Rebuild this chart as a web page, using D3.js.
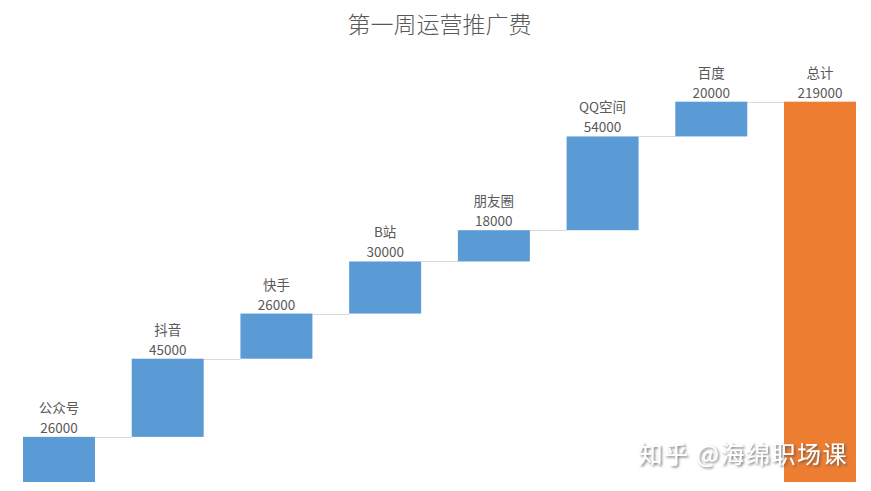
<!DOCTYPE html>
<html><head><meta charset="utf-8">
<script src="https://cdn.jsdelivr.net/npm/d3@7"></script>
<style>body{margin:0;background:#fff;}svg{display:block;}</style>
</head><body><svg id="c" width="871" height="491"></svg>
<script>
const categories = ["公众号","抖音","快手","B站","朋友圈","QQ空间","百度","总计"];
const values = [26000,45000,26000,30000,18000,54000,20000];
const totalValue = 219000;
const title = "第一周运营推广费";

const svg = d3.select("#c");
const font = "'Noto Sans CJK SC','Microsoft YaHei',sans-serif";
let cum = 0;
const rows = categories.map((c,i)=>{
  if(i < values.length){ const s = cum; cum += values[i]; return {c, v: values[i], start: s, end: cum, total:false}; }
  return {c, v: totalValue, start: 0, end: totalValue, total:true};
});
const x = d3.scaleBand().domain(categories).range([23,856]).paddingInner(0.338).paddingOuter(0);
const y = d3.scaleLinear().domain([0,totalValue]).range([482,101.7]);

svg.append("text").attr("x",439.5).attr("y",33).attr("text-anchor","middle")
  .attr("font-family",font).attr("font-size",23).attr("font-weight",300).attr("fill","#595959").text(title);

// connectors
rows.slice(0,-1).forEach((d,i)=>{
  const n = categories[i+1];
  svg.append("line").attr("x1",x(d.c)+x.bandwidth()).attr("x2",x(n))
    .attr("y1",Math.round(y(d.end))+0.5).attr("y2",Math.round(y(d.end))+0.5)
    .attr("stroke","#d9d9d9").attr("stroke-width",1);
});

svg.selectAll("rect.bar").data(rows).join("rect").attr("class","bar")
  .attr("x",d=>x(d.c)).attr("width",x.bandwidth())
  .attr("y",d=>y(d.end)).attr("height",d=>y(d.start)-y(d.end))
  .attr("fill",d=>d.total?"#ED7D31":"#5B9BD5");

const lab = svg.selectAll("g.lab").data(rows).join("g").attr("class","lab")
  .attr("font-family",font).attr("fill","#595959").attr("text-anchor","middle");
lab.append("text").attr("x",d=>x(d.c)+x.bandwidth()/2).attr("y",d=>y(d.end)-4)
  .attr("font-size",13.5).text(d=>d.v);
lab.append("text").attr("x",d=>x(d.c)+x.bandwidth()/2).attr("y",d=>y(d.end)-24)
  .attr("font-size",13.5).text(d=>d.c);

// watermark
const defs = svg.append("defs");
const f = defs.append("filter").attr("id","sh").attr("x","-10%").attr("y","-30%").attr("width","130%").attr("height","160%");
f.append("feDropShadow").attr("dx",1.5).attr("dy",1.5).attr("stdDeviation",1).attr("flood-color","#555").attr("flood-opacity",0.8);
svg.append("text").attr("x",848).attr("y",463).attr("text-anchor","end")
  .attr("font-family",font).attr("font-size",24).attr("letter-spacing",1.5).attr("fill","#fff").attr("filter","url(#sh)")
  .text("知乎 @海绵职场课");
</script></body></html>
